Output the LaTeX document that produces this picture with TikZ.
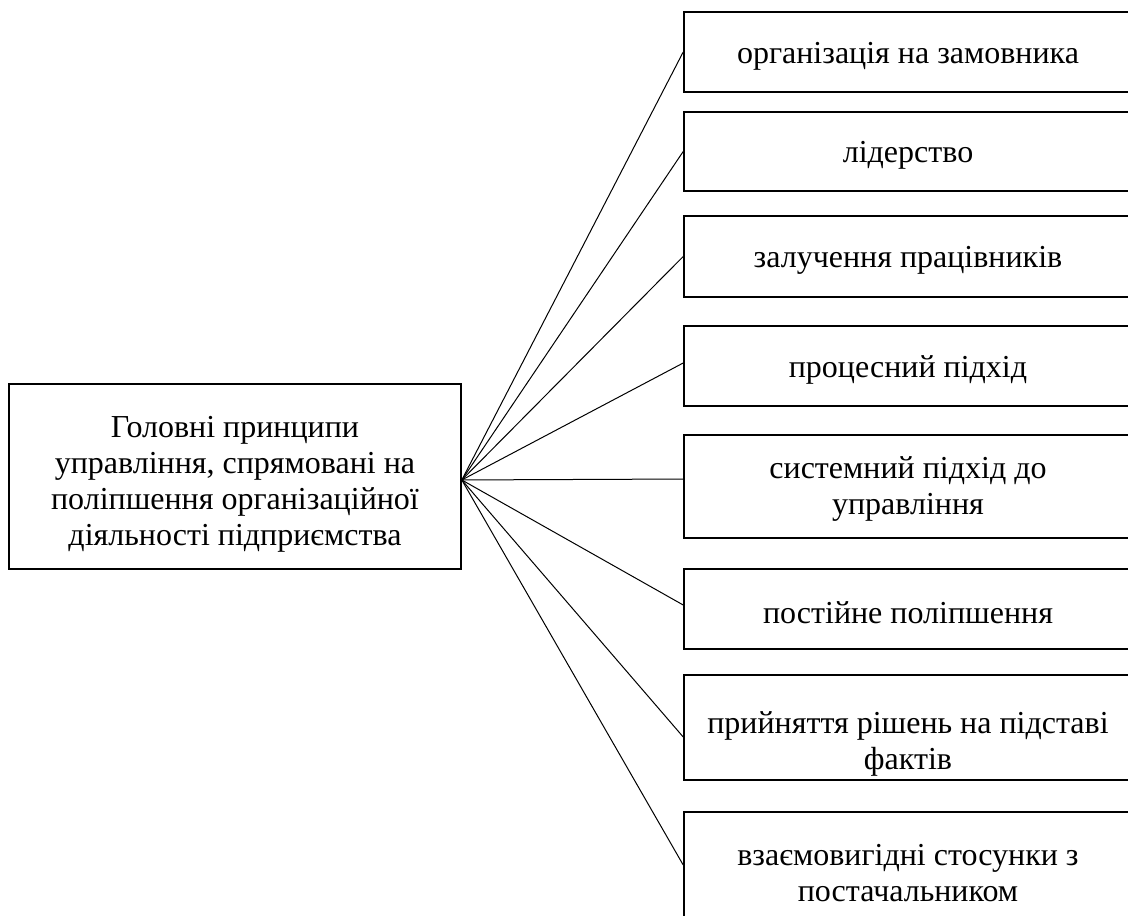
\documentclass[tikz,border=0pt]{standalone}
\usepackage{fontspec}
\setmainfont{Liberation Serif}
\begin{document}
\begin{tikzpicture}[x=0.75pt,y=-0.75pt,
  box/.style={draw, line width=1.2pt, inner sep=0pt},
  rbox/.style={box, minimum width=336pt},
  txt/.style={inner sep=0pt, align=center, font=\fontsize{24}{27}\selectfont},
  link/.style={line width=0.75pt}]
\clip (0,0) rectangle (1128,916);
\node[box, minimum width=339pt, minimum height=138.75pt] (L) at (235,476.5) {};
\node[txt] (tL) at ([yshift=-6pt]L.center)
  {Головні принципи\\управління, спрямовані на\\поліпшення організаційної\\діяльності підприємства};
\node[rbox, minimum height=60pt]    (b1) at (908,52)    {};
\node[rbox, minimum height=59.25pt] (b2) at (908,151.5) {};
\node[rbox, minimum height=60.75pt] (b3) at (908,256.5) {};
\node[rbox, minimum height=60pt]    (b4) at (908,366)   {};
\node[rbox, minimum height=77.25pt] (b5) at (908,486.5) {};
\node[rbox, minimum height=60pt]    (b6) at (908,609)   {};
\node[rbox, minimum height=78.75pt] (b7) at (908,727.5) {};
\node[rbox, minimum height=92.25pt] (b8) at (908,873.5) {};
\node[txt] (t1) at ([yshift=-3pt]b1.center) {організація на замовника};
\node[txt] (t2) at ([yshift=-3pt]b2.center) {лідерство};
\node[txt] (t3) at ([yshift=-3pt]b3.center) {залучення працівників};
\node[txt] (t4) at ([yshift=-3pt]b4.center) {процесний підхід};
\node[txt] (t5) at ([yshift=-2pt]b5.center) {системний підхід до\\управління};
\node[txt] (t6) at ([yshift=-3pt]b6.center) {постійне поліпшення};
\node[txt] (t7) at ([yshift=-12pt]b7.center) {прийняття рішень на підставі\\фактів};
\node[txt] (t8) at ([yshift=0pt]b8.center) {взаємовигідні стосунки з\\постачальником};
\coordinate (hub) at ([yshift=-2.6pt]L.east);
\draw[link] (hub) -- (b1.west);
\draw[link] (hub) -- (b2.west);
\draw[link] (hub) -- (b3.west);
\draw[link] (hub) -- ([yshift=2.25pt]b4.west);
\draw[link] (hub) -- ([yshift=5.6pt]b5.west);
\draw[link] (hub) -- ([yshift=3pt]b6.west);
\draw[link] (hub) -- ([yshift=-7.1pt]b7.west);
\draw[link] (hub) -- ([yshift=6.4pt]b8.west);
\end{tikzpicture}
\end{document}
